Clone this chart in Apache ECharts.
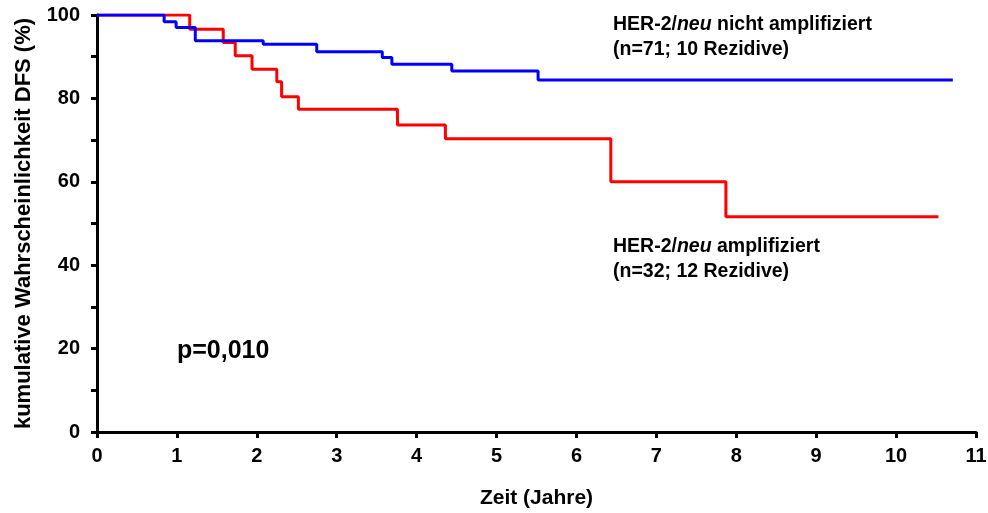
<!DOCTYPE html>
<html>
<head>
<meta charset="utf-8">
<script src="https://cdn.jsdelivr.net/npm/echarts@6/dist/echarts.min.js"></script>
<style>
  html, body { margin: 0; padding: 0; background: #fff; }
  #chart { width: 988px; height: 513px; }
</style>
</head>
<body>
<div id="chart"></div>
<script>
// Kaplan-Meier Stufen: Zeitpunkt (Jahre) und DFS (%) nach dem Ereignis
var blueTimes = [0, 0.84, 0.99, 1.23, 2.08, 2.75, 3.57, 3.69, 4.44, 5.52, 10.71];
var blueSurv  = [100, 98.4, 97.0, 93.8, 93.0, 91.2, 89.8, 88.2, 86.6, 84.4, 84.4];

var redTimes = [0, 1.16, 1.58, 1.73, 1.94, 2.25, 2.31, 2.52, 3.76, 4.36, 6.43, 7.87, 10.53];
var redSurv  = [100, 96.6, 93.4, 90.2, 87.0, 84.0, 80.4, 77.4, 73.6, 70.3, 60.0, 51.6, 51.6];

var xTicks = [0, 11, 1];   // min, max, interval
var yTicks = [0, 100, 10];

function pairs(t, s) {
  return t.map(function (v, i) { return [v, s[i]]; });
}

var font = "'Liberation Sans', Arial, sans-serif";
var myChart = echarts.init(document.getElementById('chart'));

var option = {
  animation: false,
  grid: { left: 97, right: 12, top: 15, bottom: 81, outerBoundsMode: 'none', containLabel: false },
  xAxis: {
    type: 'value',
    min: xTicks[0], max: xTicks[1], interval: xTicks[2],
    name: 'Zeit (Jahre)',
    nameLocation: 'middle',
    nameGap: 56,
    nameTextStyle: { fontFamily: font, fontWeight: 'bold', fontSize: 21, color: '#000' },
    axisLine: { lineStyle: { color: '#000', width: 3 } },
    axisTick: { lineStyle: { color: '#000', width: 3 }, length: 6 },
    axisLabel: { fontFamily: font, fontWeight: 'bold', fontSize: 20, color: '#000', margin: 14 },
    splitLine: { show: false }
  },
  yAxis: {
    type: 'value',
    min: yTicks[0], max: yTicks[1], interval: yTicks[2],
    name: 'kumulative Wahrscheinlichkeit DFS (%)',
    nameLocation: 'middle',
    nameGap: 62,
    nameTextStyle: { fontFamily: font, fontWeight: 'bold', fontSize: 22, color: '#000' },
    axisLine: { show: true, lineStyle: { color: '#000', width: 3 } },
    axisTick: { show: true, lineStyle: { color: '#000', width: 3 }, length: 6 },
    axisLabel: {
      fontFamily: font, fontWeight: 'bold', fontSize: 20, color: '#000', margin: 17,
      formatter: function (v) { return v % 20 === 0 ? v : ''; }
    },
    splitLine: { show: false }
  },
  series: [
    {
      name: 'nicht amplifiziert',
      type: 'line',
      step: 'end',
      symbol: 'none',
      lineStyle: { color: '#0000ff', width: 3 },
      data: pairs(blueTimes, blueSurv),
      z: 3
    },
    {
      name: 'amplifiziert',
      type: 'line',
      step: 'end',
      symbol: 'none',
      lineStyle: { color: '#ff0000', width: 3 },
      data: pairs(redTimes, redSurv),
      z: 2
    }
  ],
  graphic: [
    {
      type: 'text', left: 613, top: 15,
      style: {
        text: '{b|HER-2/}{i|neu}{b| nicht amplifiziert}\n{b|(n=71; 10 Rezidive)}',
        rich: {
          b: { fontFamily: font, fontWeight: 'bold', fontSize: 19.5, lineHeight: 25, fill: '#000' },
          i: { fontFamily: font, fontWeight: 'bold', fontStyle: 'italic', fontSize: 19.5, lineHeight: 25, fill: '#000' }
        }
      }
    },
    {
      type: 'text', left: 613, top: 237,
      style: {
        text: '{b|HER-2/}{i|neu}{b| amplifiziert}\n{b|(n=32; 12 Rezidive)}',
        rich: {
          b: { fontFamily: font, fontWeight: 'bold', fontSize: 19.5, lineHeight: 25, fill: '#000' },
          i: { fontFamily: font, fontWeight: 'bold', fontStyle: 'italic', fontSize: 19.5, lineHeight: 25, fill: '#000' }
        }
      }
    },
    {
      type: 'text', left: 177, top: 339,
      style: { text: 'p=0,010', fontFamily: font, fontWeight: 'bold', fontSize: 25, fill: '#000' }
    }
  ]
};

myChart.setOption(option);
</script>
</body>
</html>
